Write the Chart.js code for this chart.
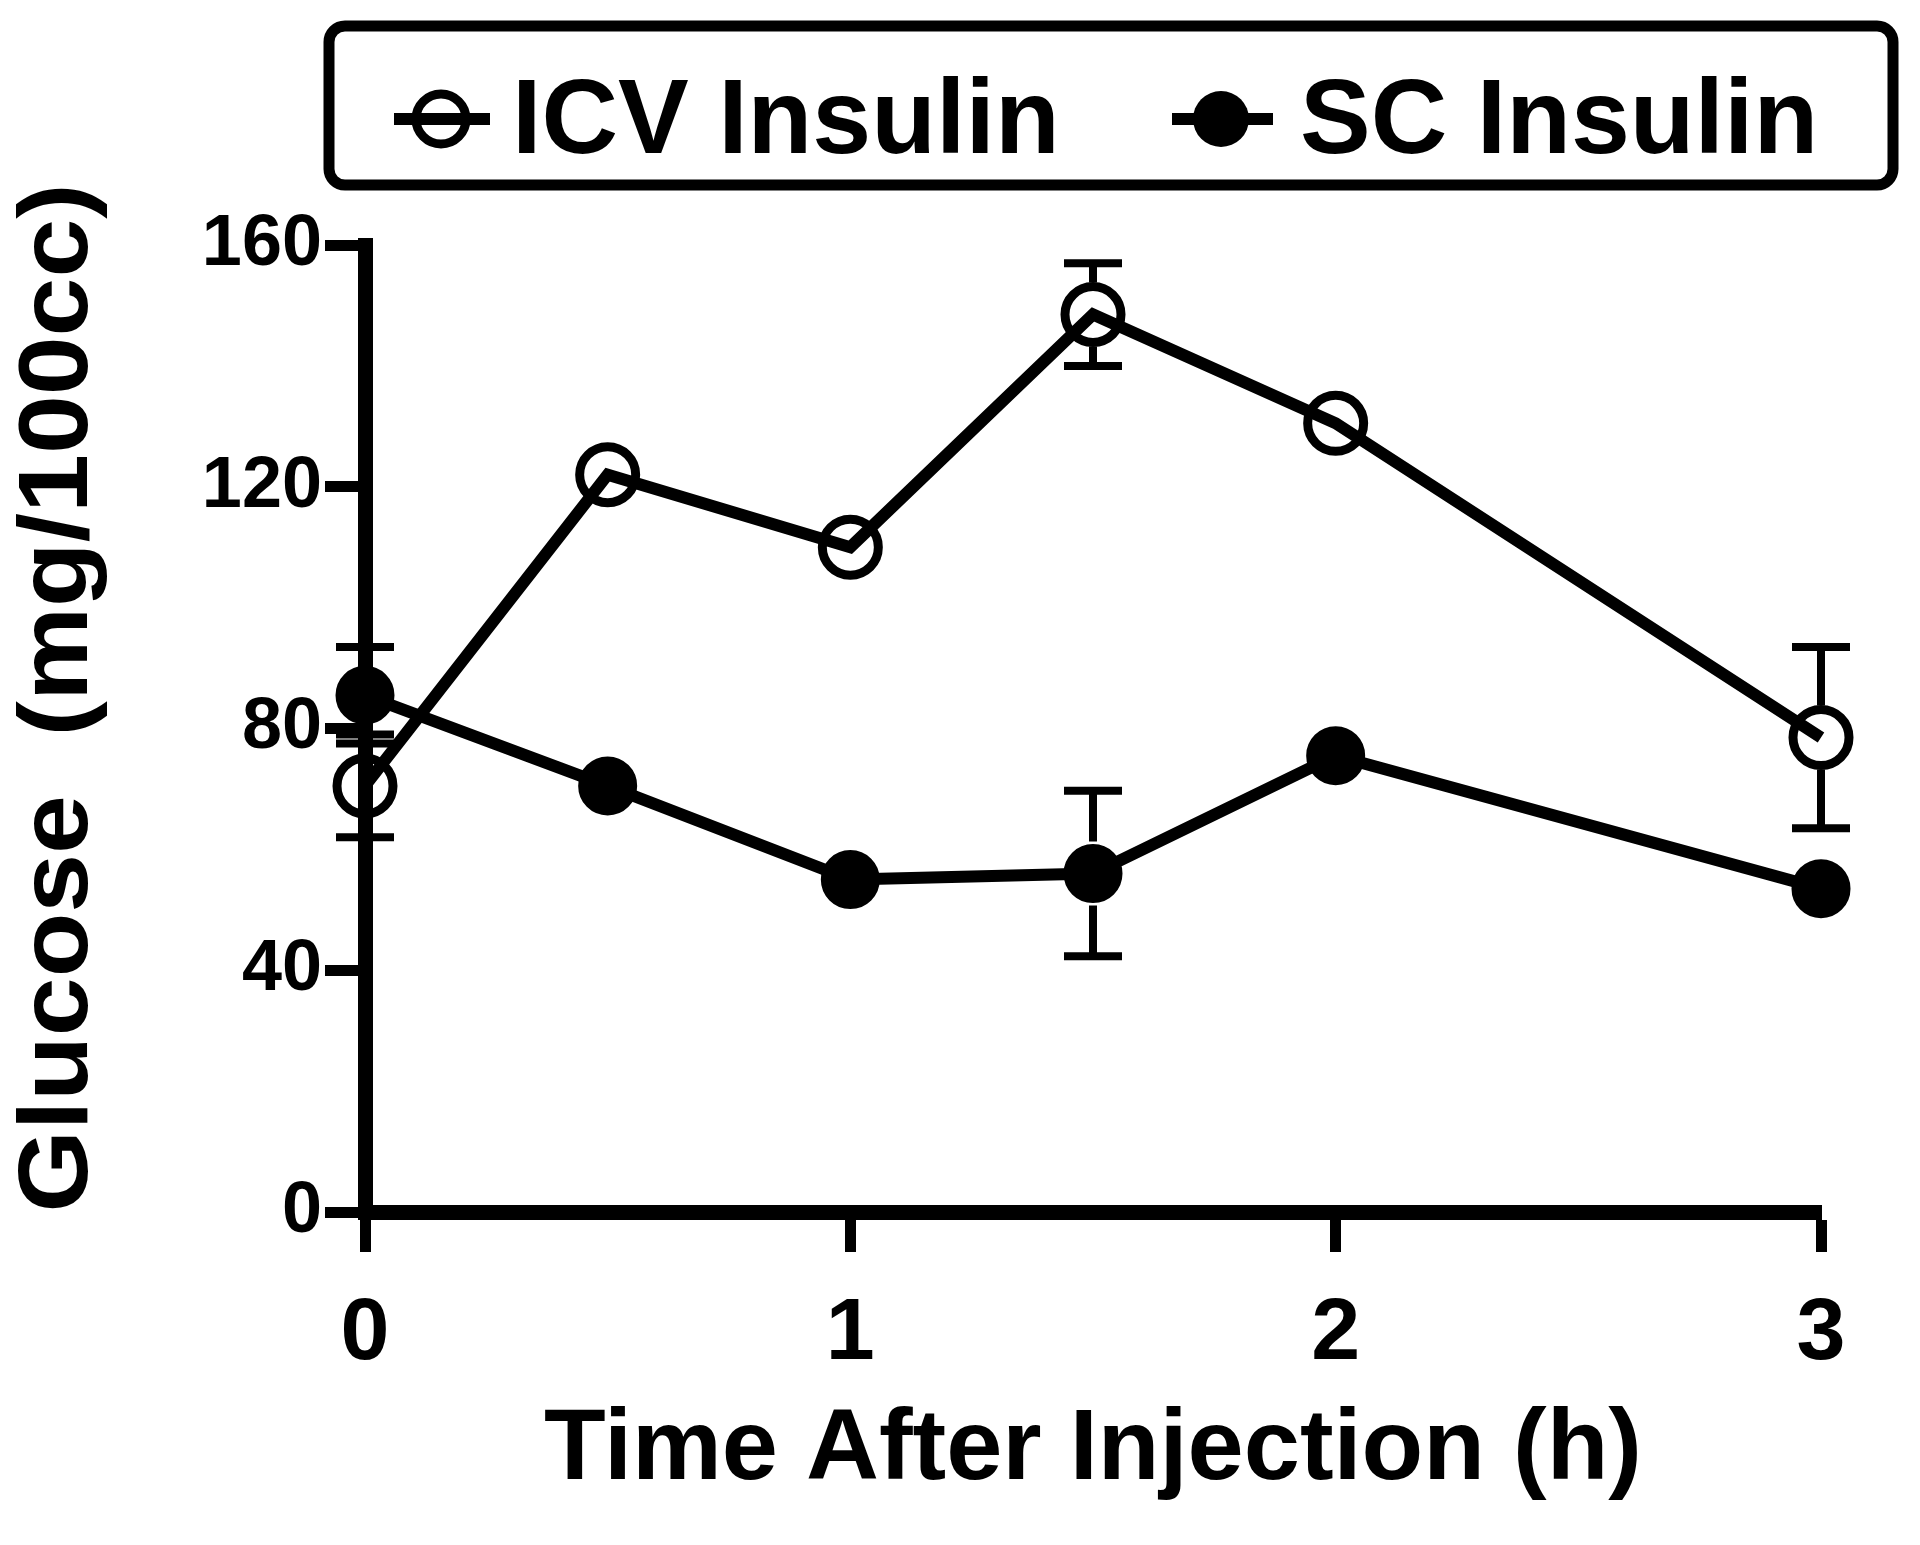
<!DOCTYPE html>
<html>
<head>
<meta charset="utf-8">
<script src="https://cdn.jsdelivr.net/npm/chart.js@4.4.1/dist/chart.umd.min.js"></script>
<style>
  body { margin: 0; background: #fff; }
  canvas { display: block; }
</style>
</head>
<body>
<canvas id="myChart" width="1920" height="1545"></canvas>
<script>
// time points (h)
const times = [0, 0.5, 1, 1.5, 2, 3];
// ICV insulin: mean and SEM (null = no bar shown)
const icvValues = [70.5, 122, 110, 148.5, 130.5, 78.5];
const icvErr = [8.5, null, null, 8.5, null, 15];
// SC insulin
const scValues = [85.5, 70.5, 55, 56, 75.5, 53.5];
const scErr = [8, null, null, 13.7, null, null];

const xTicks = [0, 1, 2, 3];
const yTicks = [0, 40, 80, 120, 160];
const yTitle = "Glucose  (mg/100cc)";

const FONT = "'Liberation Sans', Arial, sans-serif";

function toPoints(xs, ys) {
  return xs.map((x, i) => ({ x: x, y: ys[i] }));
}

// error bars, drawn from cap to edge of the marker
const errorBars = {
  id: "errorBars",
  afterDatasetsDraw(chart) {
    const ctx = chart.ctx;
    const xs = chart.scales.x, ys = chart.scales.y;
    const sets = [[icvValues, icvErr], [scValues, scErr]];
    ctx.save();
    ctx.strokeStyle = "#000";
    ctx.lineWidth = 8;
    ctx.lineCap = "butt";
    sets.forEach(([vals, errs]) => {
      times.forEach((t, i) => {
        if (errs[i] == null) return;
        const px = xs.getPixelForValue(t);
        const pc = ys.getPixelForValue(vals[i]);
        const pt = ys.getPixelForValue(vals[i] + errs[i]);
        const pb = ys.getPixelForValue(vals[i] - errs[i]);
        const r = 32;
        ctx.beginPath();
        if (pt < pc - r) { ctx.moveTo(px, pt); ctx.lineTo(px, pc - r); }
        if (pb > pc + r) { ctx.moveTo(px, pb); ctx.lineTo(px, pc + r); }
        ctx.moveTo(px - 29, pt); ctx.lineTo(px + 29, pt);
        ctx.moveTo(px - 29, pb); ctx.lineTo(px + 29, pb);
        ctx.stroke();
      });
    });
    ctx.restore();
  }
};

// y axis title, stretched a little along the text to match the figure
const yTitlePlugin = {
  id: "yTitlePlugin",
  afterDraw(chart) {
    const ctx = chart.ctx;
    ctx.save();
    ctx.font = "bold 98px " + FONT;
    ctx.fillStyle = "#000";
    ctx.textAlign = "center";
    ctx.textBaseline = "alphabetic";
    const w = ctx.measureText(yTitle).width;
    ctx.translate(87, 698);
    ctx.rotate(-Math.PI / 2);
    ctx.scale(1029 / w, 1);
    ctx.fillText(yTitle, 0, 0);
    ctx.restore();
  }
};

// boxed legend at the top
const boxLegend = {
  id: "boxLegend",
  afterDraw(chart) {
    const ctx = chart.ctx;
    ctx.save();
    const x0 = 329, y0 = 26, x1 = 1893, y1 = 185, rad = 16;
    ctx.lineWidth = 11;
    ctx.strokeStyle = "#000";
    ctx.beginPath();
    ctx.moveTo(x0 + rad, y0);
    ctx.arcTo(x1, y0, x1, y1, rad);
    ctx.arcTo(x1, y1, x0, y1, rad);
    ctx.arcTo(x0, y1, x0, y0, rad);
    ctx.arcTo(x0, y0, x1, y0, rad);
    ctx.closePath();
    ctx.stroke();

    const items = [
      { label: "ICV Insulin", cx: 441, lx0: 394, lx1: 490, tx: 512, filled: false },
      { label: "SC Insulin", cx: 1221, lx0: 1172, lx1: 1273, tx: 1300, filled: true }
    ];
    const my = 119;
    items.forEach(it => {
      ctx.lineWidth = 12;
      ctx.beginPath();
      ctx.moveTo(it.lx0, my); ctx.lineTo(it.lx1, my);
      ctx.stroke();
      ctx.beginPath();
      if (it.filled) {
        ctx.arc(it.cx, my, 28, 0, Math.PI * 2);
        ctx.fillStyle = "#000";
        ctx.fill();
      } else {
        ctx.lineWidth = 9;
        ctx.arc(it.cx, my, 25, 0, Math.PI * 2);
        ctx.stroke();
      }
      ctx.fillStyle = "#000";
      ctx.font = "bold 106px " + FONT;
      ctx.textBaseline = "alphabetic";
      ctx.textAlign = "left";
      ctx.fillText(it.label, it.tx, 153);
    });
    ctx.restore();
  }
};

const myChart = new Chart("myChart", {
  type: "line",
  data: {
    datasets: [
      {
        label: "ICV Insulin",
        data: toPoints(times, icvValues),
        borderColor: "#000",
        borderWidth: 12,
        pointRadius: 28,
        pointBorderWidth: 9,
        pointBackgroundColor: "rgba(0,0,0,0)",
        pointBorderColor: "#000",
        fill: false,
        clip: false,
      },
      {
        label: "SC Insulin",
        data: toPoints(times, scValues),
        borderColor: "#000",
        borderWidth: 12,
        pointRadius: 25,
        pointBorderWidth: 9,
        pointBackgroundColor: "#000",
        pointBorderColor: "#000",
        fill: false,
        clip: false,
      },
    ],
  },
  options: {
    responsive: false,
    devicePixelRatio: 1,
    animation: false,
    layout: { padding: { top: 245, right: 99, left: 0, bottom: 0 } },
    plugins: { legend: { display: false }, tooltip: { enabled: false } },
    scales: {
      x: {
        type: "linear",
        min: 0, max: 3,
        afterFit(scale) { scale.height = 333; },
        afterBuildTicks(scale) { scale.ticks = xTicks.map(v => ({ value: v })); },
        grid: { drawOnChartArea: false, drawTicks: true, tickLength: 40, tickWidth: 11, tickColor: "#000" },
        border: { display: true, width: 15, color: "#000" },
        ticks: { color: "#000", padding: 30, font: { family: FONT, weight: "bold", size: 88 } },
        title: {
          display: true,
          text: "Time After Injection (h)",
          color: "#000",
          font: { family: FONT, weight: "bold", size: 101, lineHeight: 1.2 },
          padding: { top: 0, bottom: 33 },
        },
      },
      y: {
        min: 0, max: 160,
        afterFit(scale) { scale.width = 365; },
        afterBuildTicks(scale) { scale.ticks = yTicks.map(v => ({ value: v })); },
        grid: { drawOnChartArea: false, drawTicks: true, tickLength: 40, tickWidth: 11, tickColor: "#000" },
        border: { display: true, width: 15, color: "#000" },
        ticks: { color: "#000", padding: 3, font: { family: FONT, weight: "bold", size: 72 } },
      },
    },
  },
  plugins: [errorBars, yTitlePlugin, boxLegend],
});
</script>
</body>
</html>
